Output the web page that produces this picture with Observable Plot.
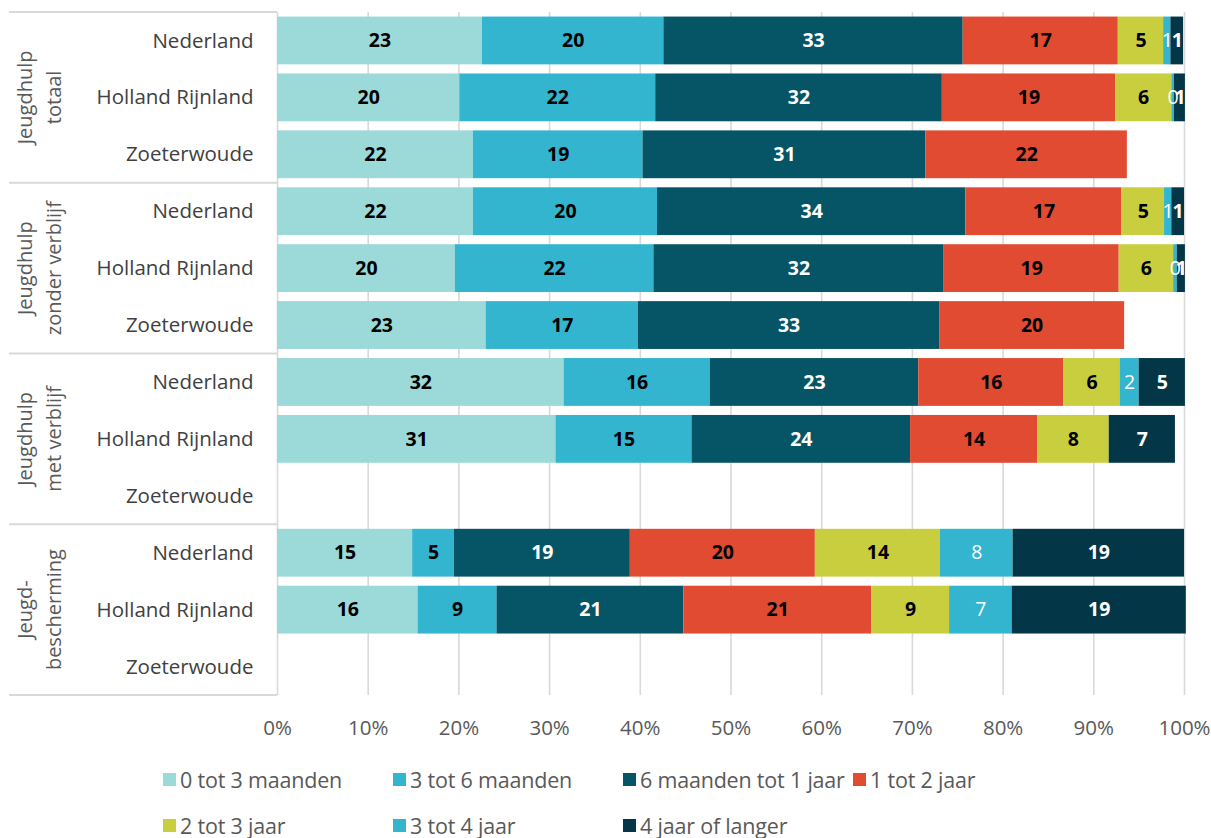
<!DOCTYPE html>
<html>
<head>
<meta charset="utf-8">
<script src="https://cdn.jsdelivr.net/npm/d3@7"></script>
<script src="https://cdn.jsdelivr.net/npm/@observablehq/plot@0.6"></script>
<style>
  body { margin: 0; background: #fff; font-family: "Open Sans", Lato, sans-serif; }
  #chart { position: relative; width: 1211px; }
  .legend { display: grid; grid-template-columns: repeat(4, 230px); grid-auto-rows: 46px; padding-left: 163px; padding-top: 6px; }
  .legend-item { display: flex; align-items: center; font-size: 21.5px; color: #595959; white-space: nowrap; letter-spacing: -0.2px; }
  .legend-item span.sw { display: inline-block; width: 13px; height: 13px; margin-right: 4px; }
</style>
</head>
<body>
<div id="chart"></div>
<script>
// ---- data ----
const groups = ["Jeugdhulp\ntotaal", "Jeugdhulp\nzonder verblijf", "Jeugdhulp\nmet verblijf", "Jeugd-\nbescherming"];
const regions = ["Nederland", "Holland Rijnland", "Zoeterwoude"];
const categories = ["0 tot 3 maanden", "3 tot 6 maanden", "6 maanden tot 1 jaar", "1 tot 2 jaar", "2 tot 3 jaar", "3 tot 4 jaar", "4 jaar of langer"];
const colors = ["#9BDAD8", "#33B5D0", "#065566", "#E04B32", "#C9CE3E", "#33B5D0", "#033646"];
const labelColors = ["#000", "#000", "#fff", "#000", "#000", "#fff", "#fff"];
const labelWeights = ["bold", "bold", "bold", "bold", "bold", "normal", "bold"];
const xTicks = [0, 10, 20, 30, 40, 50, 60, 70, 80, 90, 100];

// values per category, rows: group × region (null = not shown)
const v0to3m  = [22.6, 20.1, 21.6, 21.6, 19.6, 23.0, 31.6, 30.7, null, 14.9, 15.5, null];
const v3to6m  = [20.0, 21.6, 18.7, 20.3, 21.9, 16.8, 16.1, 15.0, null, 4.6, 8.7, null];
const v6mto1j = [33.0, 31.6, 31.2, 34.0, 32.0, 33.2, 23.0, 24.1, null, 19.4, 20.6, null];
const v1to2j  = [17.1, 19.1, 22.2, 17.2, 19.3, 20.4, 16.0, 14.0, null, 20.4, 20.7, null];
const v2to3j  = [5.0, 6.2, null, 4.7, 6.0, null, 6.2, 7.9, null, 13.8, 8.6, null];
const v3to4j  = [0.8, 0.3, null, 0.8, 0.4, null, 2.1, null, null, 8.0, 6.9, null];
const v4jplus = [1.4, 1.2, null, 1.4, 0.9, null, 5.1, 7.3, null, 18.9, 19.2, null];
const seriesValues = [v0to3m, v3to6m, v6mto1j, v1to2j, v2to3j, v3to4j, v4jplus];

// ---- table ----
const rowKeys = [];
groups.forEach((g, gi) => regions.forEach(r => rowKeys.push(gi + "|" + r)));
const table = [];
rowKeys.forEach((key, ri) => {
  categories.forEach((cat, ci) => {
    const v = seriesValues[ci][ri];
    if (v != null) table.push({key, cat, ci, value: v});
  });
});

const FONT = "'Open Sans', Lato, sans-serif";
const labelMark = (pred, fill, weight) => Plot.text(table, Plot.stackX({
  x: "value", y: "key", z: "cat",
  text: d => pred(d) ? String(Math.round(d.value)) : null,
  fill, fontWeight: weight, fontSize: 19.5, fontFamily: FONT
}));

const plot = Plot.plot({
  width: 1211,
  height: 750,
  marginLeft: 277,
  marginRight: 27,
  marginTop: 12,
  marginBottom: 55,
  style: {fontFamily: FONT, background: "#fff"},
  x: {domain: [0, 100]},
  y: {domain: rowKeys, paddingInner: 0.16, paddingOuter: 0.08, round: false},
  color: {domain: categories, range: colors},
  marks: [
    Plot.gridX(xTicks, {stroke: "#D9D9D9", strokeOpacity: 1, strokeWidth: 1.6}),
    Plot.barX(table, Plot.stackX({x: "value", y: "key", z: "cat", fill: "cat"})),
    labelMark(d => labelColors[d.ci] === "#000", "#000", "bold"),
    labelMark(d => labelColors[d.ci] === "#fff" && labelWeights[d.ci] === "bold", "#fff", "bold"),
    labelMark(d => labelColors[d.ci] === "#fff" && labelWeights[d.ci] === "normal", "#fff", "normal"),
    Plot.axisX(xTicks, {tickFormat: d => d + "%", tickSize: 0, tickPadding: 25, fontSize: 20.5, fill: "#595959", label: null}),
    Plot.axisY({tickFormat: k => k.split("|")[1], tickSize: 0, tickPadding: 24, fontSize: 20.5, fill: "#404040", label: null})
  ]
});

// group dividers and group labels, positioned via the plot's y scale
const y = plot.scale("y");
const half = (y.step - y.bandwidth) / 2;
const svg = d3.select(plot);
const overlay = svg.append("g");
const boundaries = [];
groups.forEach((g, gi) => {
  const first = gi + "|" + regions[0];
  const last = gi + "|" + regions[regions.length - 1];
  const top = y.apply(first) - half;
  const bottom = y.apply(last) + y.bandwidth + half;
  boundaries.push(top);
  if (gi === groups.length - 1) boundaries.push(bottom);
  const mid = (top + bottom) / 2;
  const lines = g.split("\n");
  const t = overlay.append("text")
    .attr("transform", `translate(41,${mid}) rotate(-90)`)
    .attr("text-anchor", "middle")
    .attr("font-family", FONT)
    .attr("font-size", 20)
    .attr("fill", "#595959");
  lines.forEach((ln, li) => {
    t.append("tspan").attr("x", 0).attr("dy", li === 0 ? -9 : 29).text(ln);
  });
});
boundaries.forEach(b => {
  overlay.append("line").attr("x1", 9).attr("x2", 277).attr("y1", b).attr("y2", b)
    .attr("stroke", "#D9D9D9").attr("stroke-width", 2);
});

const chart = document.getElementById("chart");
chart.appendChild(plot);

// legend
const legend = document.createElement("div");
legend.className = "legend";
categories.forEach((c, i) => {
  const item = document.createElement("div");
  item.className = "legend-item";
  item.innerHTML = `<span class="sw" style="background:${colors[i]}"></span>${c}`;
  legend.appendChild(item);
});
chart.appendChild(legend);
</script>
</body>
</html>
